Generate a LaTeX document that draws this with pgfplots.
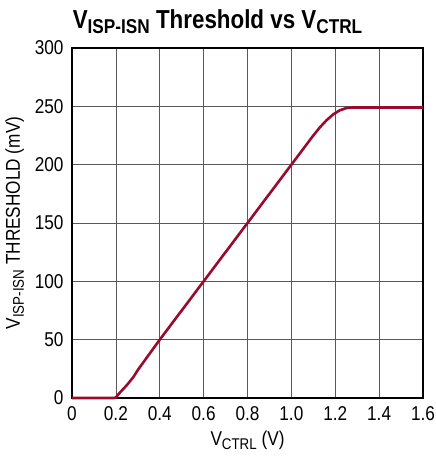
\documentclass[border=0pt]{standalone}
\usepackage{pgfplots}
\pgfplotsset{compat=1.18}
\usepackage{fontspec}
\setmainfont{Liberation Sans}[FakeStretch=0.86]
\definecolor{lineRed}{HTML}{9A0A2E}
\begin{document}
\begin{tikzpicture}[x=1bp,y=1bp]
\begin{axis}[
  scale only axis,
  width=351bp, height=350bp,
  xmin=0, xmax=1.6, ymin=0, ymax=300,
  xtick={0,0.2,...,1.6},
  xticklabels={0,0.2,0.4,0.6,0.8,1.0,1.2,1.4,1.6},
  ytick={0,50,...,300},
  grid=major,
  major grid style={gray!70!black, line width=0.7bp},
  axis line style={black, line width=1.3bp},
  major tick length=0pt,
  tick label style={font=\fontsize{20bp}{22bp}\selectfont},
  /pgf/number format/assume math mode=true,
  xticklabel style={yshift=-5bp},
  yticklabel style={xshift=-5bp},
  xlabel={V{\fontsize{15.5bp}{15.5bp}\selectfont\raisebox{-4bp}{CTRL}} (V)},
  ylabel={V{\fontsize{15.5bp}{15.5bp}\selectfont\raisebox{-4bp}{ISP-ISN}} THRESHOLD (mV)},
  label style={font=\fontsize{20bp}{22bp}\selectfont},
  xlabel style={yshift=-3bp},
  ylabel style={yshift=4bp},
  title={\textbf{V{\fontsize{20bp}{20bp}\selectfont\raisebox{-5bp}{ISP-ISN}} Threshold vs V{\fontsize{20bp}{20bp}\selectfont\raisebox{-5bp}{CTRL}}}},
  title style={font=\fontsize{26bp}{30bp}\selectfont, yshift=5bp, xshift=-30bp},
  clip=false,
]
\addplot[lineRed, line width=2.6bp] coordinates {
(0,0) (0.19,0) (0.20,0.5) (0.22,5) (0.25,11) (0.28,18) (0.30,24)
(0.40,50) (0.50,75) (0.60,100) (0.70,125) (0.80,150) (0.90,175)
(1.00,200) (1.05,212.5) (1.10,225) (1.13,232) (1.16,238) (1.19,243)
(1.22,246.5) (1.25,248.5) (1.28,249) (1.40,249) (1.60,249)
};
\end{axis}
\pgfresetboundingbox
\path (-72bp,-60bp) rectangle ++(436bp,458bp);
\end{tikzpicture}
\end{document}
